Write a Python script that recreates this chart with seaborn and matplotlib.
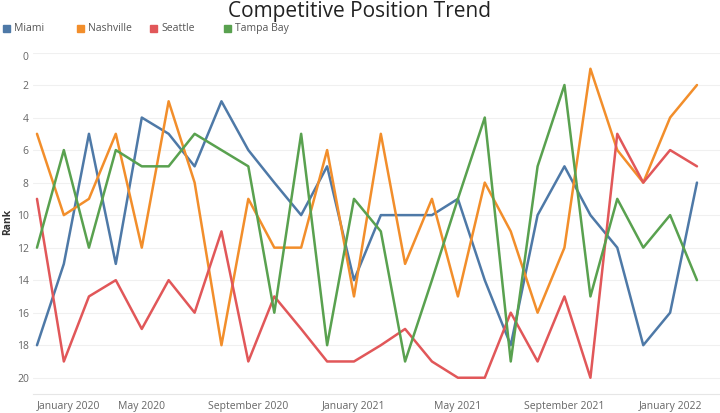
import pandas as pd
import matplotlib
matplotlib.use("Agg")
import matplotlib.pyplot as plt
import matplotlib.dates as mdates
import matplotlib.patches as mpatches
import seaborn as sns

months = pd.date_range("2020-01-01", "2022-02-01", freq="MS")

miami = [18, 13, 5, 13, 4, 5, 7, 3, 6, 8, 10, 7, 14,
         10, 10, 10, 9, 14, 18, 10, 7, 10, 12, 18, 16, 8]
nashville = [5, 10, 9, 5, 12, 3, 8, 18, 9, 12, 12, 6, 15,
             5, 13, 9, 15, 8, 11, 16, 12, 1, 6, 8, 4, 2]
seattle = [9, 19, 15, 14, 17, 14, 16, 11, 19, 15, 17, 19, 19,
           18, 17, 19, 20, 20, 16, 19, 15, 20, 5, 8, 6, 7]
tampa_bay = [12, 6, 12, 6, 7, 7, 5, 6, 7, 16, 5, 18, 9,
             11, 19, 14, 9, 4, 19, 7, 2, 15, 9, 12, 10, 14]

teams = ["Miami", "Nashville", "Seattle", "Tampa Bay"]
colors = ["#4e79a7", "#f28e2b", "#e15759", "#59a14f"]
y_ticks = list(range(0, 21, 2))
x_ticks = pd.to_datetime(["2020-01-01", "2020-05-01", "2020-09-01", "2021-01-01",
                          "2021-05-01", "2021-09-01", "2022-01-01"])

df = pd.DataFrame({"Month": list(months) * 4,
                   "Rank": miami + nashville + seattle + tampa_bay,
                   "Team": [t for t in teams for _ in months]})

sns.set_style("white")
plt.rcParams["font.family"] = ["Open Sans", "DejaVu Sans"]

fig = plt.figure(figsize=(7.2, 4.13), dpi=100)
ax = fig.add_axes([33 / 720, 1 - 394 / 413, 1 - 33 / 720, (394 - 52.5) / 413])

sns.lineplot(data=df, x="Month", y="Rank", hue="Team", hue_order=teams,
             palette=colors, linewidth=1.8, legend=False, ax=ax)

day = pd.Timedelta(days=1)
ax.set_xlim(months[0] - 4.6 * day, months[-1] + 26.6 * day)
ax.set_ylim(21, 0)
ax.set_yticks(y_ticks)
ax.set_xticks(x_ticks)
ax.xaxis.set_major_formatter(mdates.DateFormatter("%B %Y"))
ax.grid(axis="y", color="#f0f0f0", linewidth=0.8)
ax.grid(axis="x", visible=False)
for s in ["top", "right", "left"]:
    ax.spines[s].set_visible(False)
ax.spines["bottom"].set_color("#e6e6e6")
ax.tick_params(axis="both", length=0, labelsize=7.5, labelcolor="#666666")
ax.tick_params(axis="x", pad=5)
ax.tick_params(axis="y", pad=3)
ax.get_xticklabels()[0].set_ha("left")
ax.get_yticklabels()[0].set_va("top")
ax.set_xlabel("")
ax.set_ylabel("Rank", fontsize=7.5, color="#333333", fontweight="bold")
ax.yaxis.set_label_coords(-(33 - 13) / 687, (394 - 222) / (394 - 52.5))

fig.text(0.5, 1 - 12 / 413, "Competitive Position Trend", ha="center", va="center",
         fontsize=15, color="#222222")

for i, (team, c) in enumerate(zip(teams, colors)):
    x0 = (3 + i * 73.7) / 720
    fig.patches.append(mpatches.Rectangle((x0, 1 - 32 / 413), 7 / 720, 7 / 413,
                                          color=c, transform=fig.transFigure, figure=fig))
    fig.text(x0 + 11 / 720, 1 - 28.5 / 413, team, fontsize=7.5, color="#555555",
             va="center", ha="left")

fig.savefig("out.png", dpi=100)
